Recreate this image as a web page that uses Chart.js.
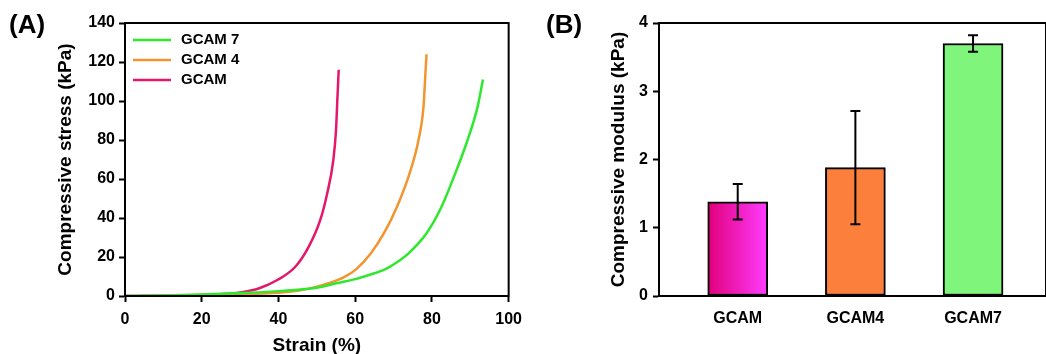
<!DOCTYPE html>
<html>
<head>
<meta charset="utf-8">
<script src="https://cdn.jsdelivr.net/npm/chart.js@4.4.1/dist/chart.umd.min.js"></script>
<style>
  body { margin: 0; background: #fff; width: 1046px; height: 354px; overflow: hidden; position: relative; font-family: "Liberation Sans", Arial, sans-serif; }
  .panel { position: absolute; top: 0; }
  .tag { position: absolute; font-weight: bold; font-size: 26px; color: #000; }
</style>
</head>
<body>
<div class="panel" style="left:0;width:530px;height:362px"><canvas id="stressChart" width="530" height="362"></canvas></div>
<div class="panel" style="left:540px;width:506px;height:354px"><canvas id="modulusChart" width="506" height="354"></canvas></div>
<div class="tag" style="left:9px;top:9px">(A)</div>
<div class="tag" style="left:546px;top:9px">(B)</div>
<script>
// panel A - stress/strain curves
const gcam7Strain = [0, 10, 20, 30, 40, 47, 50, 55, 60.3, 64, 67.9, 70.5, 73.9, 78.6, 82.5, 85.9, 89.3, 91.9, 93.3];
const gcam7Stress = [0, 0.3, 0.8, 1.5, 2.5, 3.6, 4.2, 6.5, 8.8, 11, 13.8, 16.8, 21.9, 32.2, 45.8, 62, 80, 97, 111];
const gcam4Strain = [0, 10, 20, 30, 40, 45, 48.2, 53.3, 57, 60.3, 64.1, 67.5, 70.9, 74.2, 76.5, 77.8, 78.3, 78.6];
const gcam4Stress = [0, 0.2, 0.5, 0.9, 1.7, 2.7, 3.9, 6.7, 9.5, 13.8, 21.9, 32.2, 45.8, 63, 80, 97, 114, 124];
const gcamStrain = [0, 10, 20, 25, 30, 35, 39.7, 44.4, 47.9, 50.9, 52.7, 54.3, 55, 55.4, 55.7];
const gcamStress = [0, 0.2, 0.5, 0.9, 1.8, 4, 8.2, 15, 25.3, 39, 52.6, 69.7, 85, 103, 116];

// panel B - modulus bars
const modulusLabels = ['GCAM', 'GCAM4', 'GCAM7'];
const modulusPos = [1, 2, 3];
const modulusValues = [1.38, 1.88, 3.70];
const modulusErrors = [0.26, 0.83, 0.12];

Chart.defaults.font.family = '"Liberation Sans", Arial, sans-serif';
Chart.defaults.color = '#000';
Chart.defaults.animation = false;

function pts(xs, ys) {
    return xs.map((x, i) => ({ x: x, y: ys[i] }));
}

const boxPlugin = {
    id: 'box',
    afterDraw(chart) {
        const a = chart.chartArea;
        const ctx = chart.ctx;
        ctx.save();
        ctx.strokeStyle = '#000';
        ctx.lineWidth = 2;
        ctx.strokeRect(a.left, a.top, a.right - a.left, a.bottom - a.top);
        ctx.restore();
    }
};

// legend drawn inside the plot, top left
const insideLegend = {
    id: 'insideLegend',
    afterDraw(chart) {
        const a = chart.chartArea;
        const ctx = chart.ctx;
        ctx.save();
        ctx.font = 'bold 15px "Liberation Sans", Arial, sans-serif';
        ctx.textBaseline = 'middle';
        ctx.fillStyle = '#000';
        chart.data.datasets.forEach((ds, i) => {
            const y = a.top + 17 + i * 20;
            ctx.strokeStyle = ds.borderColor;
            ctx.lineWidth = 2.5;
            ctx.beginPath();
            ctx.moveTo(a.left + 8, y);
            ctx.lineTo(a.left + 46, y);
            ctx.stroke();
            ctx.fillText(ds.label, a.left + 56, y);
        });
        ctx.restore();
    }
};

const stress = document.getElementById('stressChart');

new Chart(stress, {
    type: 'line',
    data: {
        datasets: [{
            label: 'GCAM 7',
            data: pts(gcam7Strain, gcam7Stress),
            borderColor: '#2ee82e',
            borderWidth: 2.5,
            pointRadius: 0,
            cubicInterpolationMode: 'monotone',
        }, {
            label: 'GCAM 4',
            data: pts(gcam4Strain, gcam4Stress),
            borderColor: '#f2952e',
            borderWidth: 2.5,
            pointRadius: 0,
            cubicInterpolationMode: 'monotone',
        }, {
            label: 'GCAM',
            data: pts(gcamStrain, gcamStress),
            borderColor: '#e5176b',
            borderWidth: 2.5,
            pointRadius: 0,
            cubicInterpolationMode: 'monotone',
        }]
    },
    options: {
        responsive: false,
        layout: { padding: { top: 23, right: 15, bottom: 0, left: 0 } },
        plugins: {
            tooltip: { enabled: false },
            legend: { display: false }
        },
        scales: {
            x: {
                type: 'linear',
                min: 0,
                max: 100,
                afterFit: s => { s.height = 66; },
                ticks: { stepSize: 20, padding: 8, font: { size: 16, weight: 'bold' } },
                grid: { drawOnChartArea: false, tickLength: 6, tickColor: '#000', tickWidth: 2 },
                border: { color: '#000', width: 2 },
                title: { display: true, text: 'Strain (%)', font: { size: 19, weight: 'bold' }, padding: { top: 0, bottom: 5 } },
            },
            y: {
                min: 0,
                max: 140,
                afterFit: s => { s.width = 125; },
                ticks: { stepSize: 20, padding: 4, font: { size: 16, weight: 'bold' } },
                grid: { drawOnChartArea: false, tickLength: 6, tickColor: '#000', tickWidth: 2 },
                border: { color: '#000', width: 2 },
                title: { display: true, text: 'Compressive stress (kPa)', font: { size: 19, weight: 'bold' }, padding: { top: 54, bottom: 0 } },
            }
        }
    },
    plugins: [boxPlugin, insideLegend]
});

const modulus = document.getElementById('modulusChart');

function barFill(ctx) {
    const i = ctx.dataIndex;
    if (i === 1) return '#fc7f3c';
    if (i === 2) return '#7ff57c';
    const chart = ctx.chart;
    if (!chart.chartArea || !chart.scales.x) return '#f01aa8';
    const cx = chart.scales.x.getPixelForValue(modulusPos[0]);
    const g = chart.ctx.createLinearGradient(cx - 30, 0, cx + 30, 0);
    g.addColorStop(0, '#e0007a');
    g.addColorStop(1, '#ff3cff');
    return g;
}

const errorBars = {
    id: 'errorBars',
    afterDatasetsDraw(chart) {
        const ctx = chart.ctx;
        const xs = chart.scales.x;
        const ys = chart.scales.y;
        ctx.save();
        ctx.strokeStyle = '#000';
        ctx.lineWidth = 2;
        modulusValues.forEach((v, i) => {
            const x = xs.getPixelForValue(modulusPos[i]);
            const t = ys.getPixelForValue(v + modulusErrors[i]);
            const b = ys.getPixelForValue(v - modulusErrors[i]);
            ctx.beginPath();
            ctx.moveTo(x, t); ctx.lineTo(x, b);
            ctx.moveTo(x - 5, t); ctx.lineTo(x + 5, t);
            ctx.moveTo(x - 5, b); ctx.lineTo(x + 5, b);
            ctx.stroke();
        });
        ctx.restore();
    }
};

new Chart(modulus, {
    type: 'bar',
    data: {
        datasets: [{
            label: 'Compressive modulus',
            data: pts(modulusPos, modulusValues),
            backgroundColor: barFill,
            borderColor: '#000',
            borderWidth: 2,
            borderSkipped: false,
            barThickness: 60,
        }]
    },
    options: {
        responsive: false,
        layout: { padding: { top: 23, right: 0, bottom: 0, left: 0 } },
        plugins: { legend: { display: false }, tooltip: { enabled: false } },
        scales: {
            x: {
                type: 'linear',
                offset: false,
                min: 0.331,
                max: 3.62,
                afterFit: s => { s.height = 58; },
                afterBuildTicks: s => { s.ticks = modulusPos.map(v => ({ value: v })); },
                ticks: {
                    padding: 13,
                    font: { size: 16, weight: 'bold' },
                    callback: (v) => modulusLabels[modulusPos.indexOf(v)],
                },
                grid: { display: true, offset: false, drawOnChartArea: false, drawTicks: false },
                border: { color: '#000', width: 2 },
            },
            y: {
                min: 0,
                max: 4,
                afterFit: s => { s.width = 119; },
                ticks: { stepSize: 1, padding: 5, font: { size: 16, weight: 'bold' } },
                grid: { drawOnChartArea: false, tickLength: 6, tickColor: '#000', tickWidth: 2 },
                border: { color: '#000', width: 2 },
                title: { display: true, text: 'Compressive modulus (kPa)', font: { size: 19, weight: 'bold' }, padding: { top: 67, bottom: 0 } },
            }
        }
    },
    plugins: [boxPlugin, errorBars]
});
</script>
</body>
</html>
